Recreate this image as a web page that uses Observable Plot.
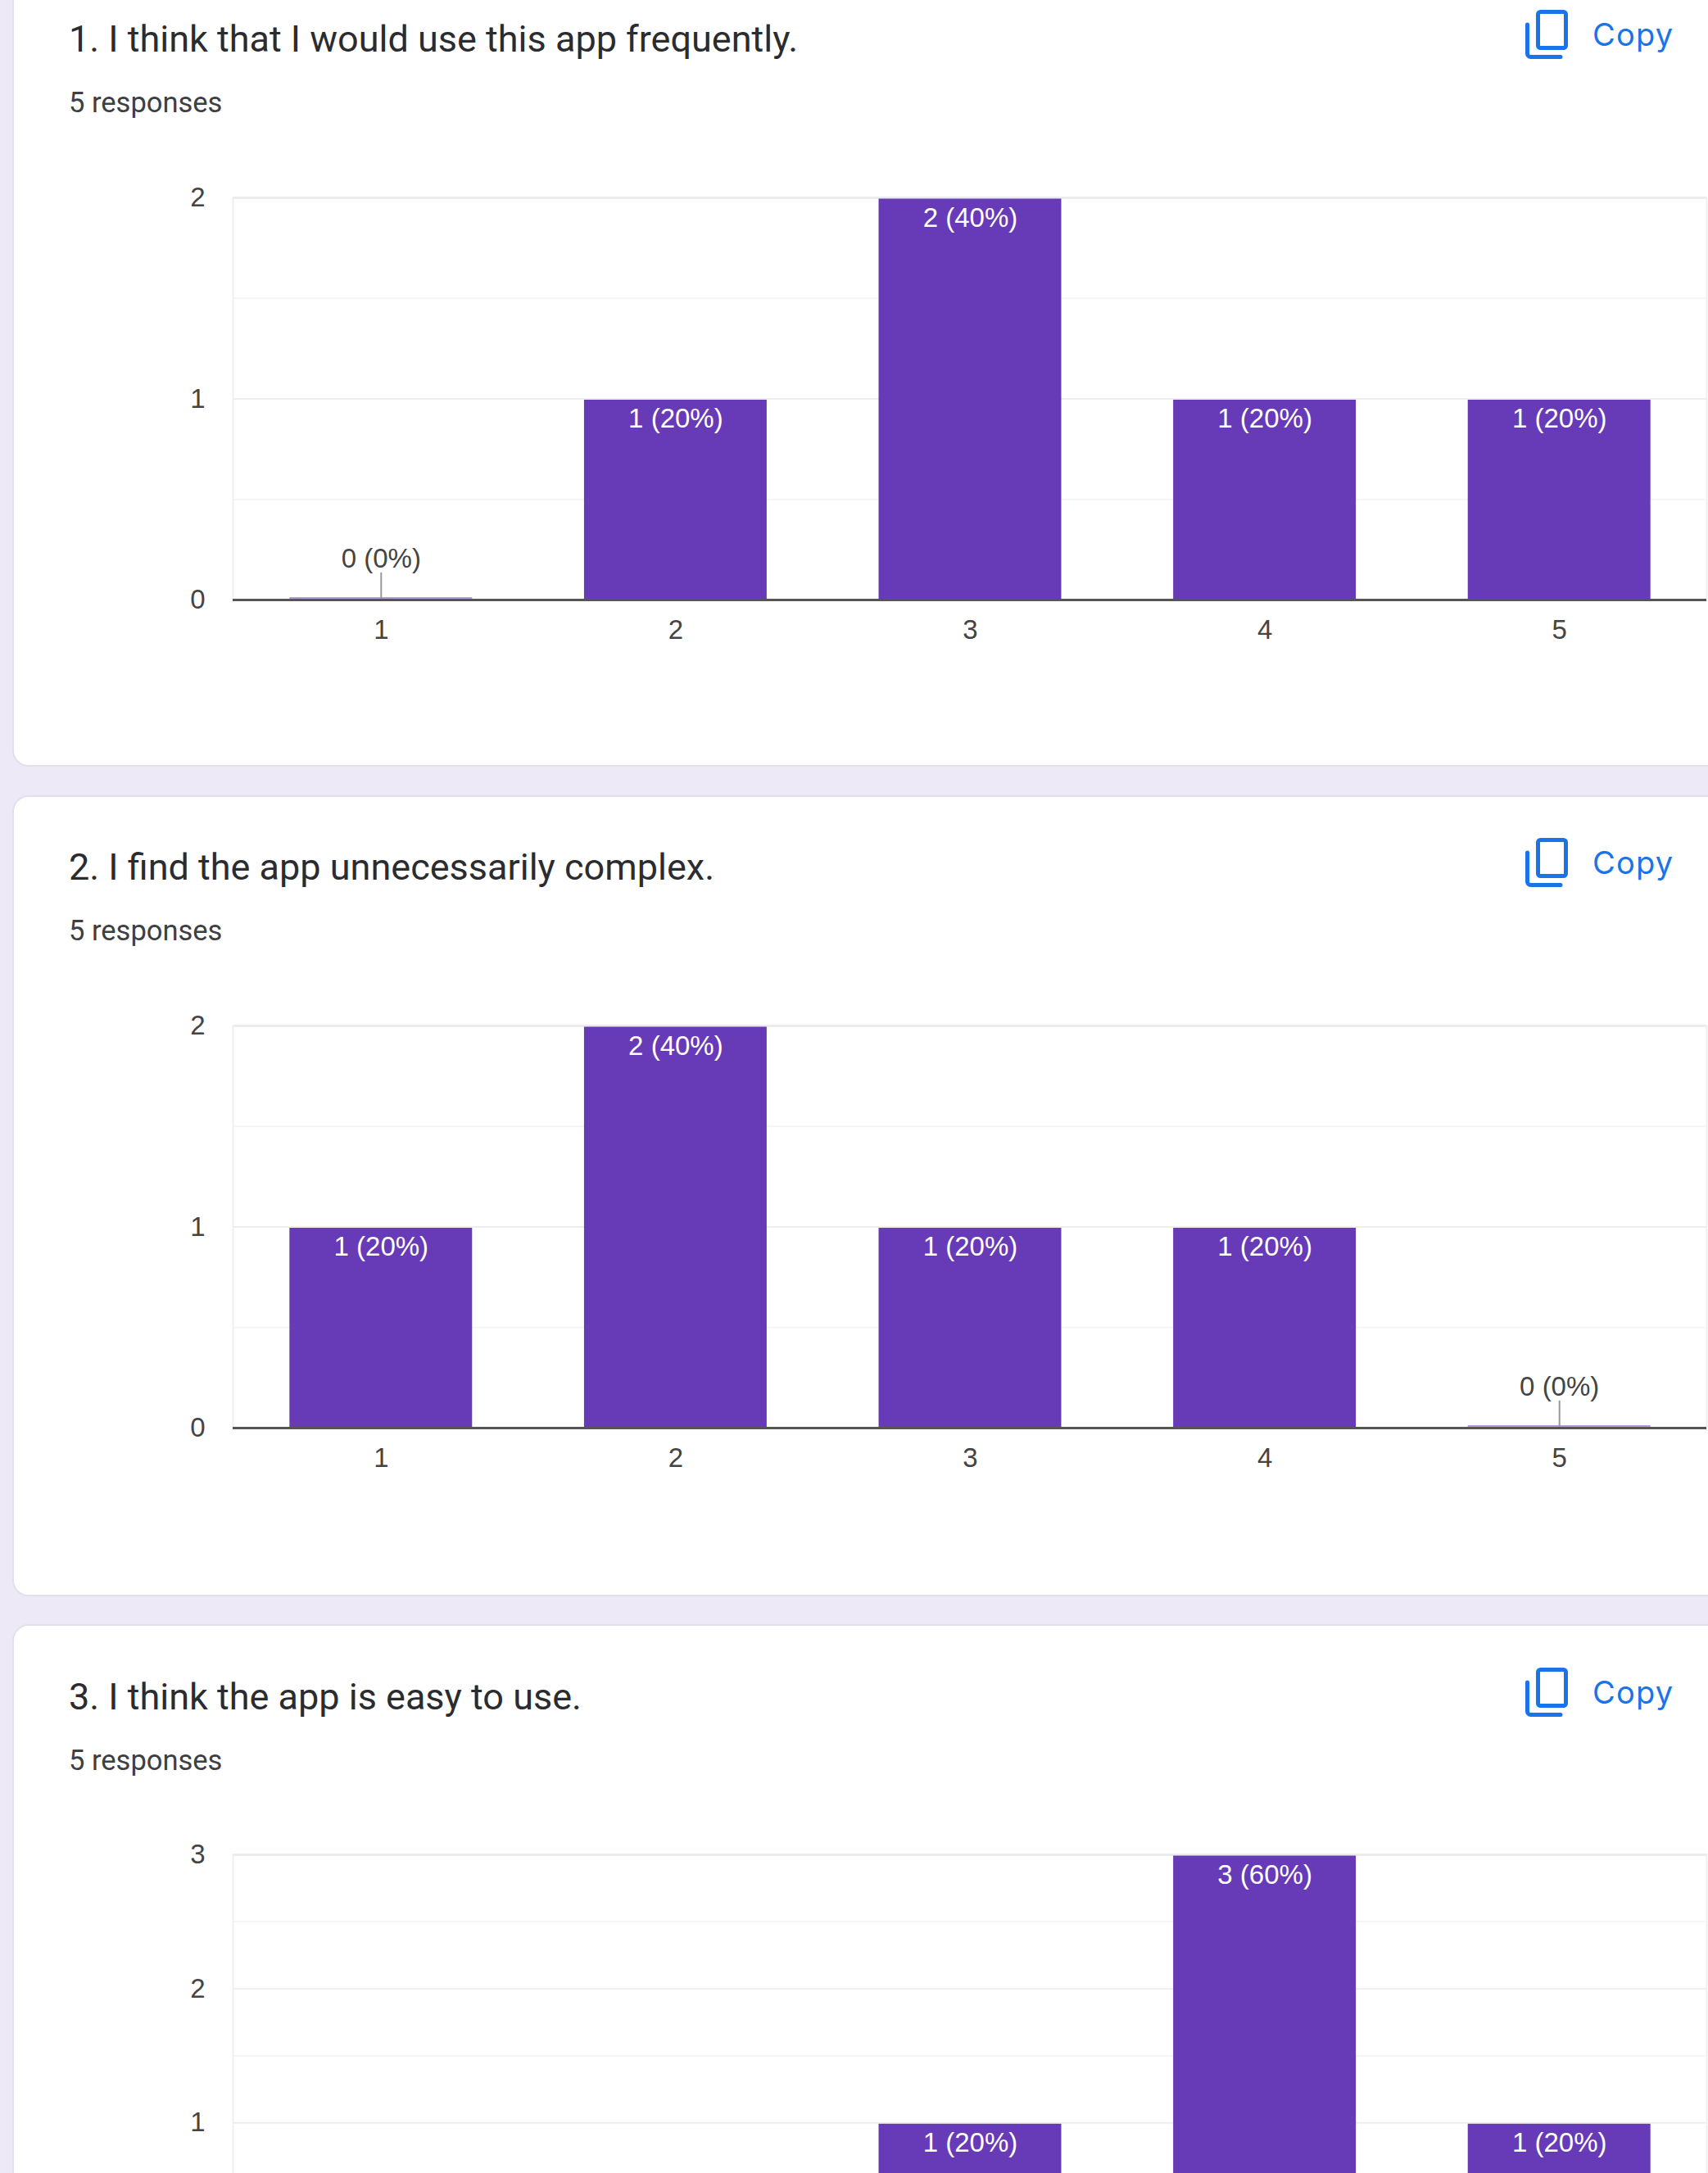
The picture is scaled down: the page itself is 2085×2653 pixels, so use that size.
<!DOCTYPE html>
<html>
<head>
<meta charset="utf-8">
<script src="https://cdn.jsdelivr.net/npm/d3@7"></script>
<script src="https://cdn.jsdelivr.net/npm/@observablehq/plot@0.6"></script>
<style>
html,body{margin:0;padding:0;width:2085px;height:2653px;overflow:hidden;background:#ede9f7;}
#page{position:relative;width:2085px;height:2653px;overflow:hidden;}
.card{position:absolute;left:15px;width:2200px;background:#fff;border:2px solid #e2e0ea;border-radius:20px;box-sizing:border-box;}
.title,.resp,.copy{position:absolute;white-space:nowrap;line-height:1;}
.title{left:84px;font:45px/1 Roboto,sans-serif;color:#2b2c2f;}
.resp{left:84px;font:34.5px/1 Roboto,sans-serif;color:#3c4043;}
.copy{left:1944px;font:400 38px/1 Inter,sans-serif;color:#1a73e8;letter-spacing:1.2px;}
.icon{position:absolute;left:1858px;width:62px;height:66px;}
.chart{position:absolute;left:0;}
.chart svg{display:block;background:transparent;overflow:visible;}
</style>
</head>
<body>
<div id="page"></div>
<script>
const categories = ["1","2","3","4","5"];
const questionTitles = [
  "1. I think that I would use this app frequently.",
  "2. I find the app unnecessarily complex.",
  "3. I think the app is easy to use."
];
const responsesText = "5 responses";
const copyText = "Copy";
const q1Values = [0,1,2,1,1];
const q2Values = [1,2,1,1,0];
const q3Values = [0,0,1,3,1];
const q1Labels = ["0 (0%)","1 (20%)","2 (40%)","1 (20%)","1 (20%)"];
const q2Labels = ["1 (20%)","2 (40%)","1 (20%)","1 (20%)","0 (0%)"];
const q3Labels = ["0 (0%)","0 (0%)","1 (20%)","3 (60%)","1 (20%)"];
const yMax = [2,2,3];
const textOffsets = [0,1011,2024];
const chartOffsets = [0.5,1011.5,2024];
const cards = [[-40,976],[971,978],[1983,976]];

const page = document.getElementById("page");
const allValues = [q1Values,q2Values,q3Values];
const allLabels = [q1Labels,q2Labels,q3Labels];
const font = "'Liberation Sans', Arial, sans-serif";
const purple = "#673ab7";
const bottomVisible = [true,true,false]; // the third chart runs past the bottom of the picture

function el(cls, top, text){
  const d = document.createElement("div");
  d.className = cls; d.style.top = top + "px"; d.textContent = text;
  page.appendChild(d); return d;
}

questionTitles.forEach((t, q) => {
  const off = textOffsets[q];
  const card = document.createElement("div");
  card.className = "card";
  card.style.top = cards[q][0] + "px";
  card.style.height = cards[q][1] + "px";
  page.appendChild(card);

  el("title", off + 25, t);
  el("resp", off + 108, responsesText);
  el("copy", off + 23, copyText);
  const ic = document.createElement("div");
  ic.className = "icon"; ic.style.top = (off + 9) + "px";
  ic.innerHTML = '<svg width="62" height="66" viewBox="0 0 62 66" fill="none" stroke="#1a73e8" stroke-width="5" stroke-linejoin="round" stroke-linecap="round"><rect x="19.5" y="5.5" width="34" height="44" rx="3"/><path d="M6.5 21V56.5a4 4 0 0 0 4 4H47"/></svg>';
  page.appendChild(ic);

  const rows = categories.map((c,i)=>({category:c, value:allValues[q][i], label:allLabels[q][i]}));
  const nonzero = rows.filter(d=>d.value>0);
  const zeros = rows.filter(d=>d.value===0);
  const M = yMax[q];
  const major = d3.range(0,M+1);
  const minor = d3.range(0.5,M,1);
  const show = bottomVisible[q];
  const plot = Plot.plot({
    width:2085, height:631,
    marginLeft:285, marginRight:2, marginTop:40, marginBottom:100,
    style:{fontFamily:font, fontSize:"33px", background:"transparent", color:"#444"},
    x:{domain:categories, paddingInner:0.38, paddingOuter:0.19, round:false, label:null, axis:null},
    y:{domain:[0,M], label:null, axis:null},
    marks:[
      Plot.frame({anchor:"left", stroke:"#f0f0f0", strokeWidth:2, dx:-1}),
      Plot.frame({anchor:"right", stroke:"#f0f0f0", strokeWidth:2}),
      Plot.ruleY(minor,{stroke:"#f5f5f5", strokeWidth:2}),
      Plot.ruleY(major.slice(1,-1),{stroke:"#eeeeee", strokeWidth:2}),
      Plot.ruleY([M],{stroke:"#ececec", strokeWidth:3, insetLeft:-1}),
      Plot.barY(nonzero,{x:"category", y:"value", fill:purple, insetTop:1.5}),
      Plot.barY(zeros,{x:"category", y:"value", fill:purple, fillOpacity:0.5, insetTop:-3}),
      Plot.ruleX(zeros,{x:"category", y1:0, y2:()=>0.135*M/2, stroke:"#999", strokeWidth:2}),
      Plot.ruleY([0],{stroke:"#555", strokeWidth:3, insetLeft:-1}),
      Plot.text(nonzero,{x:"category", y:"value", text:"label", fill:"#fff", dy:24.5, fontSize:33}),
      show ? Plot.text(zeros,{x:"category", y:0, text:"label", fill:"#444", dy:-50, fontSize:33}) : null,
      Plot.axisY({ticks:show ? major : major.slice(1), tickFormat:d=>String(d), tickSize:0, tickPadding:35, fontSize:33, fill:"#444", label:null, marginLeft:285}),
      show ? Plot.axisX({tickSize:0, tickPadding:24.5, fontSize:33, fill:"#444", label:null}) : null
    ]
  });
  const wrap = document.createElement("div");
  wrap.className = "chart";
  wrap.style.top = (chartOffsets[q] + 200) + "px";
  wrap.appendChild(plot);
  page.appendChild(wrap);
});
</script>
</body>
</html>
